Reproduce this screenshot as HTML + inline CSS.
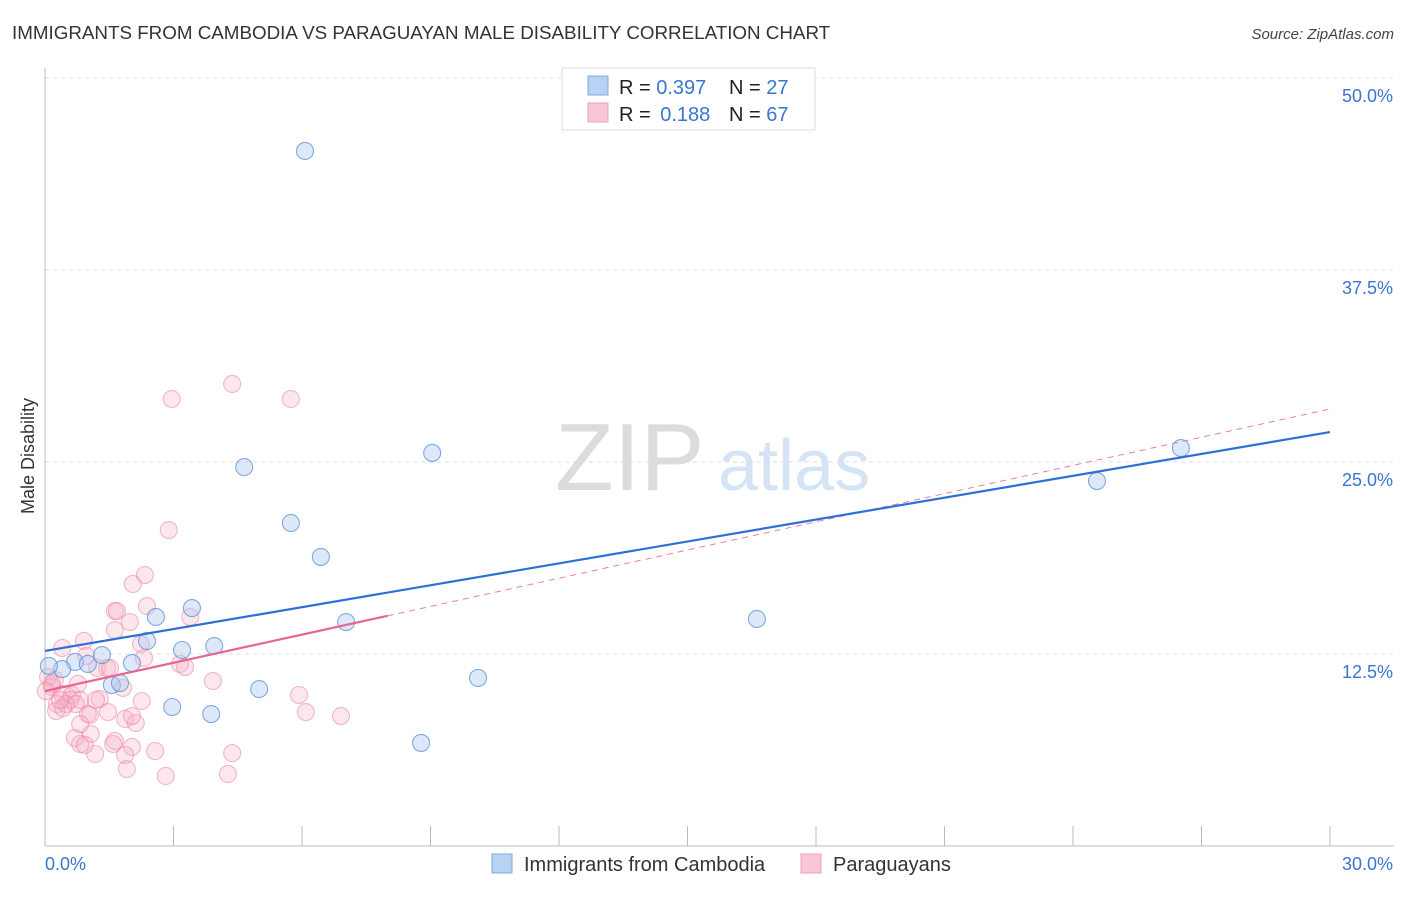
<!DOCTYPE html>
<html><head><meta charset="utf-8"><style>
body{margin:0;background:#fff;font-family:"Liberation Sans",sans-serif;}
svg text{font-family:"Liberation Sans",sans-serif;}
</style></head><body>
<svg id="chart" width="1406" height="892" viewBox="0 0 1406 892">
<text x="12" y="39" font-size="18.8" fill="#333">IMMIGRANTS FROM CAMBODIA VS PARAGUAYAN MALE DISABILITY CORRELATION CHART</text>
<text x="1394" y="39" font-size="15" fill="#444" font-style="italic" text-anchor="end">Source: ZipAtlas.com</text>
<g>
<text x="555" y="490" font-size="96" fill="#dcdcdc" font-family="Liberation Serif, serif">ZIP</text>
<text x="718" y="490" font-size="72" fill="#d5e4f5">atlas</text>
</g>
<text transform="translate(34,456) rotate(-90)" font-size="18" fill="#333" text-anchor="middle">Male Disability</text>
<g id="grid"></g><g id="axes"></g><g id="marks"></g>
<g>
<rect x="562" y="68" width="253" height="62" fill="#fff" stroke="#ddd"/>
<rect x="588" y="76" width="20" height="19" fill="#b7d2f2" stroke="#7fa9dd"/>
<rect x="588" y="103" width="20" height="19" fill="#f9c6d5" stroke="#eea0b8"/>
<text x="619" y="94" font-size="20" fill="#222">R = <tspan fill="#3a75d0">0.397</tspan></text>
<text x="729" y="94" font-size="20" fill="#222">N = <tspan fill="#3a75d0">27</tspan></text>
<text x="619" y="121" font-size="20" fill="#222">R = <tspan fill="#3a75d0" dx="4">0.188</tspan></text>
<text x="729" y="121" font-size="20" fill="#222">N = <tspan fill="#3a75d0">67</tspan></text>
</g>
<g>
<rect x="492" y="854" width="20" height="19" fill="#b7d2f2" stroke="#7fa9dd"/>
<text x="524" y="871" font-size="20" fill="#333">Immigrants from Cambodia</text>
<rect x="801" y="854" width="20" height="19" fill="#f9c6d5" stroke="#eea0b8"/>
<text x="833" y="871" font-size="20" fill="#333">Paraguayans</text>
</g>
</svg>
<script>
const yTicks=[12.5,25,37.5,50];
const yTickLabels=["12.5%","25.0%","37.5%","50.0%"];
const xTickValues=[0,3,6,9,12,15,18,21,24,27,30];
const xEndLabels=["0.0%","30.0%"];
const blueX=[6.07,9.04,4.65,5.74,6.44,3.43,2.59,7.03,2.38,3.20,3.95,1.33,0.70,2.03,1.00,0.40,0.09,1.56,1.75,5.00,10.11,2.97,3.88,8.78,16.62,24.56,26.52];
const blueY=[45.25,25.59,24.67,21.03,18.82,15.49,14.91,14.58,13.35,12.76,13.02,12.43,11.98,11.91,11.85,11.52,11.72,10.48,10.61,10.22,10.94,9.05,8.59,6.71,14.78,23.76,25.91];
const pinkX=[4.37,2.96,5.74,2.89,2.33,2.05,1.63,1.68,2.38,3.39,1.98,1.63,0.40,0.91,2.24,0.96,2.31,1.22,1.45,3.15,1.82,3.92,0.23,0.07,0.16,0.40,0.63,0.82,0.58,1.28,2.26,5.93,0.28,0.49,0.26,0.72,1.00,1.47,1.05,1.87,2.12,6.09,6.91,1.07,0.70,0.82,1.63,1.59,1.17,2.03,1.87,2.57,4.37,1.91,2.82,4.27,0.16,0.02,0.42,0.82,2.03,1.52,0.77,0.35,1.19,3.27,0.93];
const pinkY=[30.08,29.1,29.1,20.57,17.64,17.06,15.3,15.3,15.62,14.91,14.58,14.06,12.89,13.35,13.15,12.37,12.24,11.59,11.59,11.85,10.29,10.74,10.81,11.0,10.35,9.9,9.83,9.51,9.51,9.57,9.44,9.83,9.24,9.24,8.79,9.24,8.59,8.72,8.53,8.27,8.01,8.72,8.46,7.29,7.03,6.64,6.84,6.64,5.99,6.45,5.92,6.18,6.05,5.01,4.56,4.69,10.55,10.09,8.98,7.94,8.46,11.59,10.55,9.51,9.51,11.65,6.58];
const blueTrend=[12.70,26.95];
const pinkTrend=[10.09,28.45];
const pinkSolidEnd=8.0;
const NS="http://www.w3.org/2000/svg";
const X0=45,X1=1330,Y0=846;
function xs(v){return X0+v/30*(X1-X0);}
function ys(v){return Y0-v*15.36;}
function mk(tag,attrs,parent){const e=document.createElementNS(NS,tag);for(const k in attrs)e.setAttribute(k,attrs[k]);parent.appendChild(e);return e;}
const grid=document.getElementById('grid'),axes=document.getElementById('axes'),marks=document.getElementById('marks');
yTicks.forEach((t,i)=>{
 const l=mk('line',{x1:X0,x2:1394,y1:ys(t),y2:ys(t),stroke:'#ddd','stroke-dasharray':'4,4'},grid);
 
 
 const tx=mk('text',{x:1393,y:ys(t)+24,'font-size':18,fill:'#3a75d0','text-anchor':'end'},axes);
 tx.textContent=yTickLabels[i];
 
 
});
const al=mk('line',{x1:X0,x2:X0,y1:68,y2:Y0,stroke:'#bbb'},axes);


const bl=mk('line',{x1:X0,x2:1394,y1:Y0,y2:Y0,stroke:'#bbb'},axes);


xTickValues.forEach(v=>{
 const t=mk('line',{x1:xs(v),x2:xs(v),y1:826,y2:Y0,stroke:'#bbb'},axes);
 
 
});
const xl0=mk('text',{x:45,y:870,'font-size':18,fill:'#3a75d0'},axes);xl0.textContent=xEndLabels[0];


const xl1=mk('text',{x:1393,y:870,'font-size':18,fill:'#3a75d0','text-anchor':'end'},axes);xl1.textContent=xEndLabels[1];


pinkX.forEach((x,i)=>{
 const c=mk('circle',{cx:xs(x),cy:ys(pinkY[i]),r:8.5,fill:'rgba(246,175,196,0.3)',stroke:'rgba(236,130,162,0.55)','stroke-width':1.1},marks);
 
 
});
blueX.forEach((x,i)=>{
 const c=mk('circle',{cx:xs(x),cy:ys(blueY[i]),r:8.5,fill:'rgba(170,200,240,0.4)',stroke:'rgba(80,138,215,0.7)','stroke-width':1.1},marks);
 
 
});
function py(x){return pinkTrend[0]+(pinkTrend[1]-pinkTrend[0])*x/30;}
const pd=mk('line',{x1:xs(pinkSolidEnd),y1:ys(py(pinkSolidEnd)),x2:xs(30),y2:ys(pinkTrend[1]),stroke:'#e87ea0','stroke-width':1,'stroke-dasharray':'6,5'},marks);


const ps=mk('line',{x1:xs(0),y1:ys(pinkTrend[0]),x2:xs(pinkSolidEnd),y2:ys(py(pinkSolidEnd)),stroke:'#e8658f','stroke-width':2.2},marks);


const bt=mk('line',{x1:xs(0),y1:ys(blueTrend[0]),x2:xs(30),y2:ys(blueTrend[1]),stroke:'#2e6fd6','stroke-width':2.2},marks);


</script>
</body></html>
